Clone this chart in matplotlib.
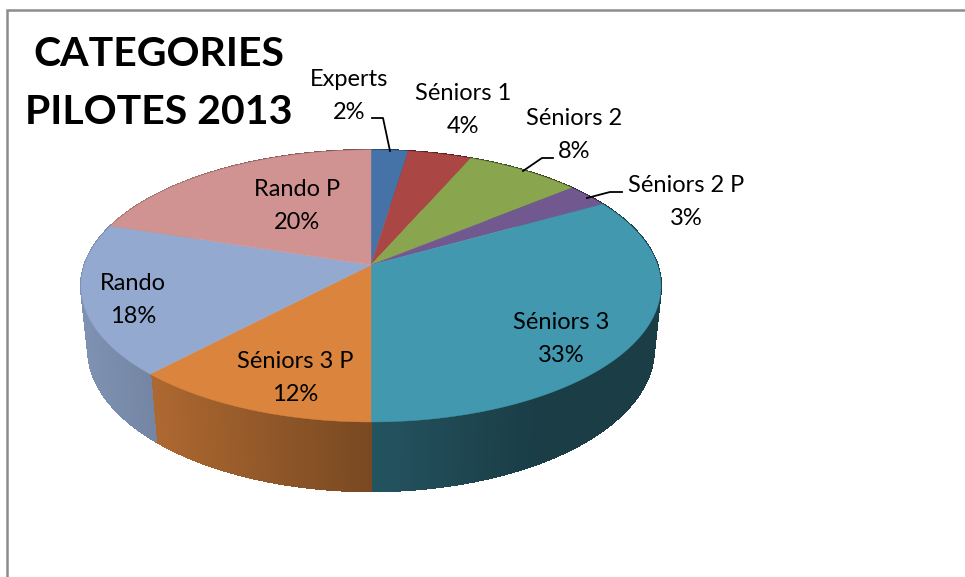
import numpy as np
import matplotlib
matplotlib.use("Agg")
import matplotlib.pyplot as plt
from matplotlib.colors import to_rgb
from matplotlib.collections import PolyCollection

categories = ["Experts", "Séniors 1", "Séniors 2", "Séniors 2 P", "Séniors 3", "Séniors 3 P", "Rando", "Rando P"]
# slice sizes as measured on the picture, the labels show them rounded
shares = [2.4, 4.1, 7.5, 2.8, 33.2, 12.0, 18.0, 20.0]
percents = [2, 4, 8, 3, 33, 12, 18, 20]
colors = ["#4572A7", "#AA4643", "#89A54E", "#71588F", "#4198AF", "#DB843D", "#93A9CF", "#D19392"]

# centre of each label in pixels
label_x = [349, 463, 574, 686, 561, 295, 133, 297]
label_y = [96, 110, 135, 202, 339, 378, 300, 206]

# leader lines
leaders = {
    "Experts": [(372, 118), (383, 118), (390, 151)],
    "Séniors 2": [(553, 158), (542, 158), (523, 171)],
    "Séniors 2 P": [(622, 192), (610, 192), (587, 198)],
}

# perspective of the pie, apex of the top face at (cx, cy)
cx, cy = 371, 265
A, B, k = 286.5, 132.8, 0.154
D, m = 64.0, 0.024


def project(theta, r=1.0, low=False):
    # theta is clockwise from 12 o'clock
    u = r * np.sin(theta)
    v = r * np.cos(theta)
    if low:
        w = 1 + k * v + m
        return cx + A * u / w, cy - (B * v - D) / w
    w = 1 + k * v
    return cx + A * u / w, cy - B * v / w


def wall_shade(x):
    return np.interp(x, [81, 151, 371, 480, 540, 661], [0.86, 0.79, 0.55, 0.45, 0.40, 0.40])


fig = plt.figure(figsize=(9.65, 5.77), dpi=100)
ax = fig.add_axes([0, 0, 1, 1])
ax.set_xlim(0, 965)
ax.set_ylim(577, 0)
ax.axis("off")

edges = np.radians(np.cumsum([0] + shares) * 3.6)

# side wall first, the top face covers the back part of it
for i in range(len(shares)):
    t = np.linspace(edges[i], edges[i + 1], max(int(shares[i] * 5), 4))
    xt, yt = project(t)
    xb, yb = project(t, low=True)
    quads = []
    fc = []
    for j in range(len(t) - 1):
        quads.append([(xt[j], yt[j]), (xt[j + 1], yt[j + 1]), (xb[j + 1], yb[j + 1]), (xb[j], yb[j])])
        fc.append(np.array(to_rgb(colors[i])) * wall_shade((xt[j] + xt[j + 1]) / 2))
    ax.add_collection(PolyCollection(quads, facecolors=fc, edgecolors=fc, linewidths=0.8,
                                     antialiaseds=False, zorder=2))

# top face
for i in range(len(shares)):
    t = np.linspace(edges[i], edges[i + 1], 80)
    xt, yt = project(t)
    ax.fill(np.r_[cx, xt], np.r_[cy, yt], color=colors[i], lw=0.3, zorder=3)

# frame, only top and left are in the picture
ax.plot([6.5, 6.5, 965], [577, 9.5, 9.5], color="#8c8c8c", lw=1.8, zorder=1, solid_joinstyle="miter")

# title
ax.text(159, 55, "CATEGORIES", family="Lato", weight="bold", fontsize=29.5, ha="center", va="center", zorder=5)
ax.text(159, 112, "PILOTES 2013", family="Lato", weight="bold", fontsize=29.5, ha="center", va="center", zorder=5)

for i in range(len(categories)):
    ax.text(label_x[i], label_y[i], categories[i] + "\n" + str(percents[i]) + "%", family="Lato", fontsize=17,
            ha="center", va="center", linespacing=1.65, color="black", zorder=5)

for name in leaders:
    pts = np.array(leaders[name])
    ax.plot(pts[:, 0], pts[:, 1], color="black", lw=1.3, zorder=4)

fig.savefig("out.png", dpi=100)
